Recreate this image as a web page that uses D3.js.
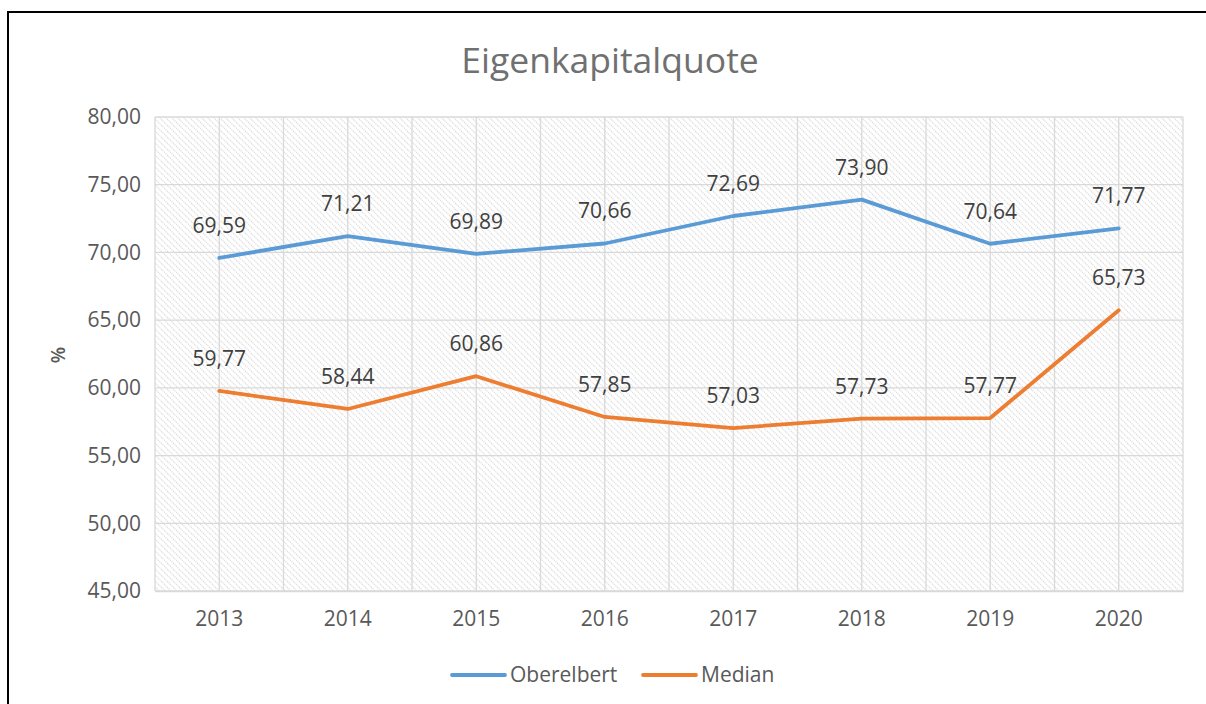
<!DOCTYPE html>
<html>
<head>
<meta charset="utf-8">
<script src="https://cdn.jsdelivr.net/npm/d3@7"></script>
<style>
  body { margin: 0; background: #fff; }
  svg { display: block; font-family: "Open Sans", sans-serif; }
</style>
</head>
<body>
<svg id="chart" width="1206" height="704"></svg>
<script>
// chart data
const years = ['2013', '2014', '2015', '2016', '2017', '2018', '2019', '2020']
const oberelbert = [69.59, 71.21, 69.89, 70.66, 72.69, 73.90, 70.64, 71.77]
const median = [59.77, 58.44, 60.86, 57.85, 57.03, 57.73, 57.77, 65.73]
const yTicks = [45, 50, 55, 60, 65, 70, 75, 80]
const seriesNames = ['Oberelbert', 'Median']
const seriesColors = ['#5b9bd5', '#ed7d31']

const svg = d3.select('#chart')
const plot = { left: 155, top: 117, right: 1183, bottom: 591 }
const fmt = (v) => d3.format('.2f')(v).replace('.', ',')

// outer frame (runs off the right and bottom edge)
svg.append('rect')
    .attr('x', 8).attr('y', 12)
    .attr('width', 1400).attr('height', 900)
    .attr('fill', 'none').attr('stroke', '#000').attr('stroke-width', 2)

// hatch pattern for plot background
const pat = svg.append('defs').append('pattern')
    .attr('id', 'hatch')
    .attr('patternUnits', 'userSpaceOnUse')
    .attr('width', 6).attr('height', 6)
pat.append('path')
    .attr('d', 'M-1,-1 L7,7 M-4,2 L2,8 M4,-2 L8,2')
    .attr('stroke', '#dcdcdc').attr('stroke-width', 1.1)
    .attr('stroke-dasharray', '1.4,0.7')

const x = d3.scaleBand()
    .domain(years)
    .range([plot.left, plot.right])
const y = d3.scaleLinear()
    .domain([45, 80])
    .range([plot.bottom, plot.top])

svg.append('rect')
    .attr('x', plot.left).attr('y', plot.top)
    .attr('width', plot.right - plot.left).attr('height', plot.bottom - plot.top)
    .attr('fill', 'url(#hatch)')

// gridlines: horizontal at ticks, vertical at category edges and centres
const grid = svg.append('g').attr('stroke', '#d9d9d9').attr('stroke-width', 1.3)
grid.selectAll('line.h')
    .data(yTicks)
    .enter().append('line')
    .attr('class', 'h')
    .attr('x1', plot.left).attr('x2', plot.right)
    .attr('y1', (d) => y(d)).attr('y2', (d) => y(d))
const vx = []
years.forEach((yr) => {
    vx.push(x(yr))
    vx.push(x(yr) + x.bandwidth() / 2)
})
vx.push(plot.right)
grid.selectAll('line.v')
    .data(vx)
    .enter().append('line')
    .attr('class', 'v')
    .attr('x1', (d) => d).attr('x2', (d) => d)
    .attr('y1', plot.top).attr('y2', plot.bottom)

// y axis labels
const yAxis = svg.append('g')
    .attr('transform', `translate(${plot.left},0)`)
    .call(d3.axisLeft(y).tickValues(yTicks).tickFormat(fmt).tickSize(0).tickPadding(14))
yAxis.select('.domain').remove()
yAxis.selectAll('text')
    .attr('font-size', 21).attr('fill', '#595959')
    .attr('font-family', '"Open Sans", sans-serif')

// x axis labels
const xAxis = svg.append('g')
    .attr('transform', `translate(0,${plot.bottom})`)
    .call(d3.axisBottom(x).tickSize(0).tickPadding(20))
xAxis.select('.domain').attr('stroke', '#d9d9d9').attr('stroke-width', 1.5)
xAxis.selectAll('text')
    .attr('font-size', 21).attr('fill', '#595959')
    .attr('font-family', '"Open Sans", sans-serif')

// title and axis title
svg.append('text')
    .attr('x', 610).attr('y', 73)
    .attr('text-anchor', 'middle')
    .attr('font-size', 35.5).attr('fill', '#707070')
    .text('Eigenkapitalquote')
svg.append('text')
    .attr('transform', 'translate(65,355) rotate(-90)')
    .attr('text-anchor', 'middle')
    .attr('font-size', 19).attr('font-weight', 600).attr('fill', '#595959')
    .text('%')

// lines and data labels
const cx = (i) => x(years[i]) + x.bandwidth() / 2
const line = d3.line()
    .x((d, i) => cx(i))
    .y((d) => y(d))
const allSeries = [oberelbert, median]
allSeries.forEach((vals, s) => {
    svg.append('path')
        .datum(vals)
        .attr('d', line)
        .attr('fill', 'none')
        .attr('stroke', seriesColors[s])
        .attr('stroke-width', 3.8)
        .attr('stroke-linejoin', 'round')
        .attr('stroke-linecap', 'round')
    svg.selectAll(`text.lbl${s}`)
        .data(vals)
        .enter().append('text')
        .attr('class', `lbl${s}`)
        .attr('x', (d, i) => cx(i))
        .attr('y', (d) => y(d) - 25)
        .attr('text-anchor', 'middle')
        .attr('font-size', 21).attr('fill', '#404040')
        .text(fmt)
})

// legend
const legendX = [452, 643]
const legend = svg.selectAll('g.legend')
    .data(seriesNames)
    .enter().append('g')
    .attr('class', 'legend')
    .attr('transform', (d, i) => `translate(${legendX[i]},675)`)
legend.append('line')
    .attr('x1', 0).attr('x2', 53)
    .attr('stroke', (d, i) => seriesColors[i])
    .attr('stroke-width', 3.8).attr('stroke-linecap', 'round')
legend.append('text')
    .attr('x', 58).attr('y', 7)
    .attr('font-size', 21).attr('fill', '#595959')
    .text((d) => d)
</script>
</body>
</html>
